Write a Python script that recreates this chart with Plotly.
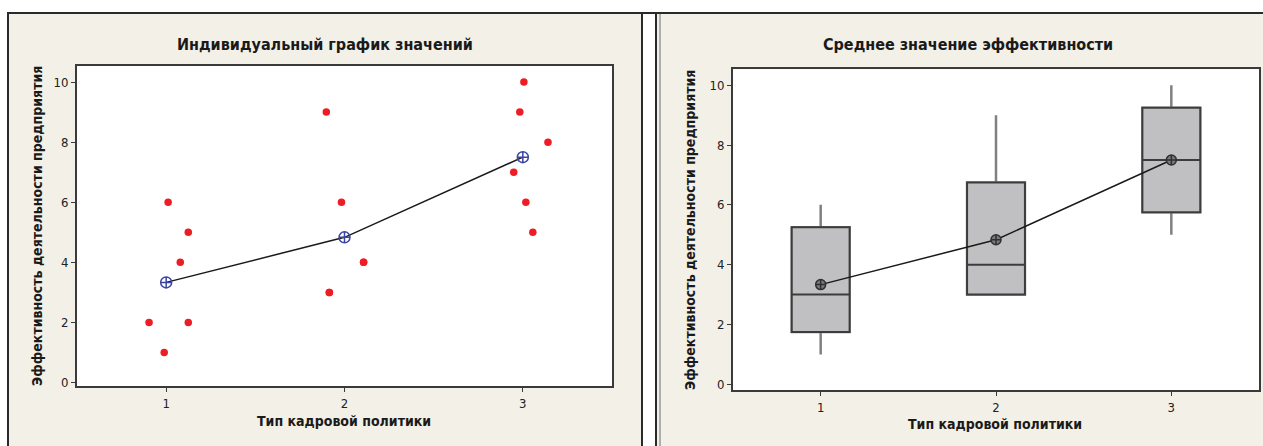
import plotly.graph_objects as go

# ---------------- data ----------------
groups = [1, 2, 3]
tick_vals_y = [0, 2, 4, 6, 8, 10]

# individual values (jittered x positions as drawn by the original)
g1_x = [0.904, 0.989, 1.011, 1.079, 1.124, 1.124]
g1_y = [2, 1, 6, 4, 5, 2]
g2_x = [1.898, 1.983, 2.107, 1.915, 2.107, 1.915]
g2_y = [9, 6, 4, 3, 4, 3]
g3_x = [3.006, 2.983, 3.141, 2.949, 3.017, 3.056]
g3_y = [10, 9, 8, 7, 6, 5]

means = [3.333, 4.833, 7.5]

# box statistics
q1 = [1.75, 3.0, 5.75]
med = [3.0, 4.0, 7.5]
q3 = [5.25, 6.75, 9.25]
lo = [1, 3, 5]
hi = [6, 9, 10]

title_left = "Индивидуальный график значений"
title_right = "Среднее значение эффективности"
x_title = "Тип кадровой политики"
y_title = "Эффективность деятельности предприятия"

# ---------------- figure ----------------
W, H = 1263, 446
BEIGE = "#f2f0e7"
FONT = "DejaVu Sans Condensed"

L_DOM = (77, 612, 66.7, 389.5)    # left, right, top, bottom (px)
R_DOM = (733, 1259, 70, 393.5)


def px(x):
    return x / W


def py(y):
    return 1 - y / H


fig = go.Figure()

pts_x = g1_x + g2_x + g3_x
pts_y = g1_y + g2_y + g3_y

# left panel
fig.add_trace(go.Scatter(x=groups, y=means, mode="lines",
                         line=dict(color="#1a1a1a", width=1.5),
                         xaxis="x", yaxis="y", showlegend=False, hoverinfo="skip"))
fig.add_trace(go.Scatter(x=pts_x, y=pts_y, mode="markers",
                         marker=dict(color="#ee1c25", size=7.5),
                         xaxis="x", yaxis="y", showlegend=False))
fig.add_trace(go.Scatter(x=groups, y=means, mode="markers",
                         marker=dict(symbol="circle-cross-open", size=11,
                                     color="#3a45a5", line=dict(width=1.5, color="#3a45a5")),
                         xaxis="x", yaxis="y", showlegend=False))

# right panel: whiskers (gray) then box (dark outline) on top
fig.add_trace(go.Box(x=groups, q1=q1, median=med, q3=q3, lowerfence=lo, upperfence=hi,
                     width=0.33, whiskerwidth=0, fillcolor="#c0c0c2",
                     line=dict(color="#808080", width=2.5),
                     xaxis="x2", yaxis="y2", showlegend=False, hoverinfo="skip"))
fig.add_trace(go.Box(x=groups, q1=q1, median=med, q3=q3, lowerfence=q1, upperfence=q3,
                     width=0.33, whiskerwidth=0, fillcolor="#c0c0c2",
                     line=dict(color="#3c3c3c", width=2),
                     xaxis="x2", yaxis="y2", showlegend=False))
fig.add_trace(go.Scatter(x=groups, y=means, mode="lines+markers",
                         line=dict(color="#1a1a1a", width=1.5),
                         marker=dict(symbol="circle-cross", size=10, color="#7a7a7a",
                                     line=dict(width=1.5, color="#303030")),
                         xaxis="x2", yaxis="y2", showlegend=False))

axis_common = dict(showline=True, mirror=True, linecolor="#3a3a3a", linewidth=2,
                   ticks="outside", ticklen=4, tickcolor="#3a3a3a", tickwidth=1,
                   showgrid=False, zeroline=False,
                   tickfont=dict(family=FONT, size=13, color="#222"))

fig.update_layout(
    width=W, height=H,
    margin=dict(l=0, r=0, t=0, b=0),
    paper_bgcolor="white", plot_bgcolor="white",
    boxmode="overlay",
    xaxis=dict(domain=[px(L_DOM[0]), px(L_DOM[1])], range=[0.5, 3.5], tickvals=groups,
               anchor="y", **axis_common),
    yaxis=dict(domain=[py(L_DOM[3]), py(L_DOM[2])], range=[-0.115, 10.53], tickvals=tick_vals_y,
               anchor="x", **axis_common),
    xaxis2=dict(domain=[px(R_DOM[0]), px(R_DOM[1])], range=[0.5, 3.5], tickvals=groups,
                anchor="y2", **axis_common),
    yaxis2=dict(domain=[py(R_DOM[3]), py(R_DOM[2])], range=[-0.19, 10.53], tickvals=tick_vals_y,
                anchor="x2", **axis_common),
)

shapes = [
    # left panel background
    dict(type="rect", xref="paper", yref="paper", x0=px(8), x1=px(642), y0=-0.1, y1=py(13),
         fillcolor=BEIGE, line=dict(color="#2a2a2a", width=2), layer="below"),
    # right panel background
    dict(type="rect", xref="paper", yref="paper", x0=px(656), x1=1.05, y0=-0.1, y1=py(13),
         fillcolor=BEIGE, line=dict(color="#2a2a2a", width=2), layer="below"),
    # inner gray line of the double separator
    dict(type="line", xref="paper", yref="paper", x0=px(660), x1=px(660), y0=-0.1, y1=py(13),
         line=dict(color="#9a9a9a", width=1.5), layer="below"),
    # continuous top border
    dict(type="line", xref="paper", yref="paper", x0=px(8), x1=1.0, y0=py(13), y1=py(13),
         line=dict(color="#2a2a2a", width=2), layer="below"),
]
for d in (L_DOM, R_DOM):
    shapes.append(dict(type="rect", xref="paper", yref="paper",
                       x0=px(d[0]), x1=px(d[1]), y0=py(d[3]), y1=py(d[2]),
                       fillcolor="white", line=dict(width=0), layer="below"))
fig.update_layout(shapes=shapes)


def label(text, x, y, size, angle=0):
    return dict(text="<b>%s</b>" % text, x=px(x), y=py(y), xref="paper", yref="paper",
                xanchor="center", yanchor="middle", textangle=angle, showarrow=False,
                font=dict(family=FONT, size=size, color="#1a1a1a"))


fig.update_layout(annotations=[
    label(title_left, 325, 45, 16),
    label(title_right, 968, 45, 16),
    label(x_title, 344, 425, 14),
    label(x_title, 995, 428, 14),
    label(y_title, 37, 228, 14, -90),
    label(y_title, 690, 232, 14, -90),
])

fig.write_html("out.html", config={"displayModeBar": False},
               post_script="document.body.style.margin='0px';")
